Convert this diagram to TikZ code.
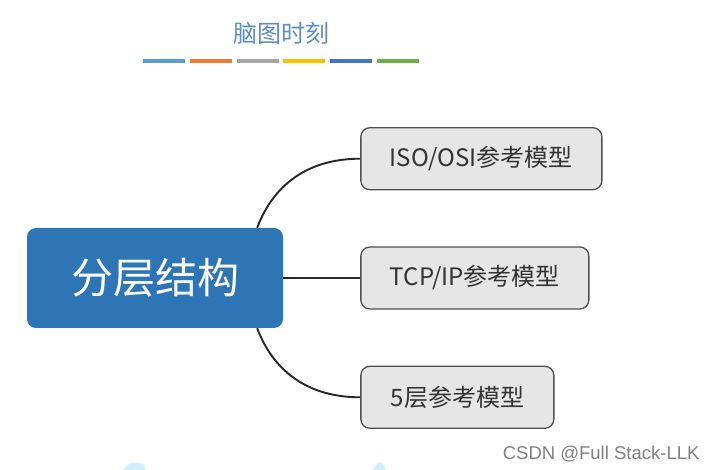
\documentclass[tikz,border=0pt]{standalone}
\usepackage{fontspec}
\setmainfont{Noto Sans CJK SC}
\newfontfamily\markfont{Liberation Sans}
\usepackage{tikz}
\usetikzlibrary{positioning}
\definecolor{titleblue}{HTML}{5B8CC5}
\definecolor{topicblue}{HTML}{2E75B6}
\definecolor{boxgray}{HTML}{E6E6E6}
\definecolor{boxline}{HTML}{505050}
\definecolor{blobblue}{HTML}{CFEEFB}
\definecolor{barA}{HTML}{5B9BD5}
\definecolor{barB}{HTML}{ED7D31}
\definecolor{barC}{HTML}{A5A5A5}
\definecolor{barD}{HTML}{FFC000}
\definecolor{barE}{HTML}{4472C4}
\definecolor{barF}{HTML}{70AD47}
\tikzstyle{topic} = [rectangle, rounded corners=9pt, 
minimum width=256pt, 
minimum height=100pt,
text centered, 
fill=topicblue, 
text=white,
font=\fontsize{42}{44}\selectfont]
\tikzstyle{subtopic} = [rectangle, rounded corners=9pt, 
minimum height=62pt, 
text centered, 
draw=boxline, 
line width=1.3pt,
fill=boxgray, 
text=black!80,
font=\fontsize{24}{26}\selectfont]
\tikzstyle{headline} = [text=titleblue, font=\fontsize{24}{26}\selectfont]
\tikzstyle{branch} = [line width=1.9pt, black!85]
\tikzstyle{bar} = [line width=4pt]
\tikzstyle{watermark} = [text=black!50, font=\markfont\fontsize{18.5}{20}\selectfont]

\begin{document}
\begin{tikzpicture} [x=1pt, y=-1pt]
		\fill [white] (0,0) rectangle (705,470);
		\useasboundingbox (0,0) rectangle (705,470);
		% title and colour strip
		\node (title) [headline] at (281,33) {脑图时刻};
		\foreach \c [count=\i from 0] in {barA,barB,barC,barD,barE,barF}
			\draw [bar, \c] (143+\i*46.8,61) -- (185+\i*46.8,61);
		% topic and subtopics
		\node (main) [topic] at (155,278) {分层结构};
		\node (tcp) [subtopic, minimum width=228pt, right=77pt of main] {TCP/IP参考模型};
		\node (iso) [subtopic, minimum width=241pt, above=56pt of tcp.north west, anchor=south west] {ISO/OSI参考模型};
		\node (five) [subtopic, minimum width=193pt, below=56pt of tcp.south west, anchor=north west] {5层参考模型};
		\coordinate (up) at ([xshift=-26pt]main.north east);
		\coordinate (down) at ([xshift=-26pt]main.south east);
		\draw [branch] (up) .. controls ([xshift=13pt, yshift=35pt]up) and ([xshift=-60pt]iso.west) .. (iso.west);
		\draw [branch] (main.east) -- (tcp.west);
		\draw [branch] (down) .. controls ([xshift=13pt, yshift=-35pt]down) and ([xshift=-60pt]five.west) .. (five.west);
		% footer
		\node (mark) [watermark, anchor=east] at (703,454) {CSDN @Full Stack-LLK};
		\fill [blobblue] (124,470) .. controls (126,463) and (134,461) .. (143,464) -- (146,470) -- cycle;
		\fill [blobblue] (372,470) -- (378,463) .. controls (380,461) and (382,462) .. (386,470) -- cycle;
	\end{tikzpicture}
\end{document}
